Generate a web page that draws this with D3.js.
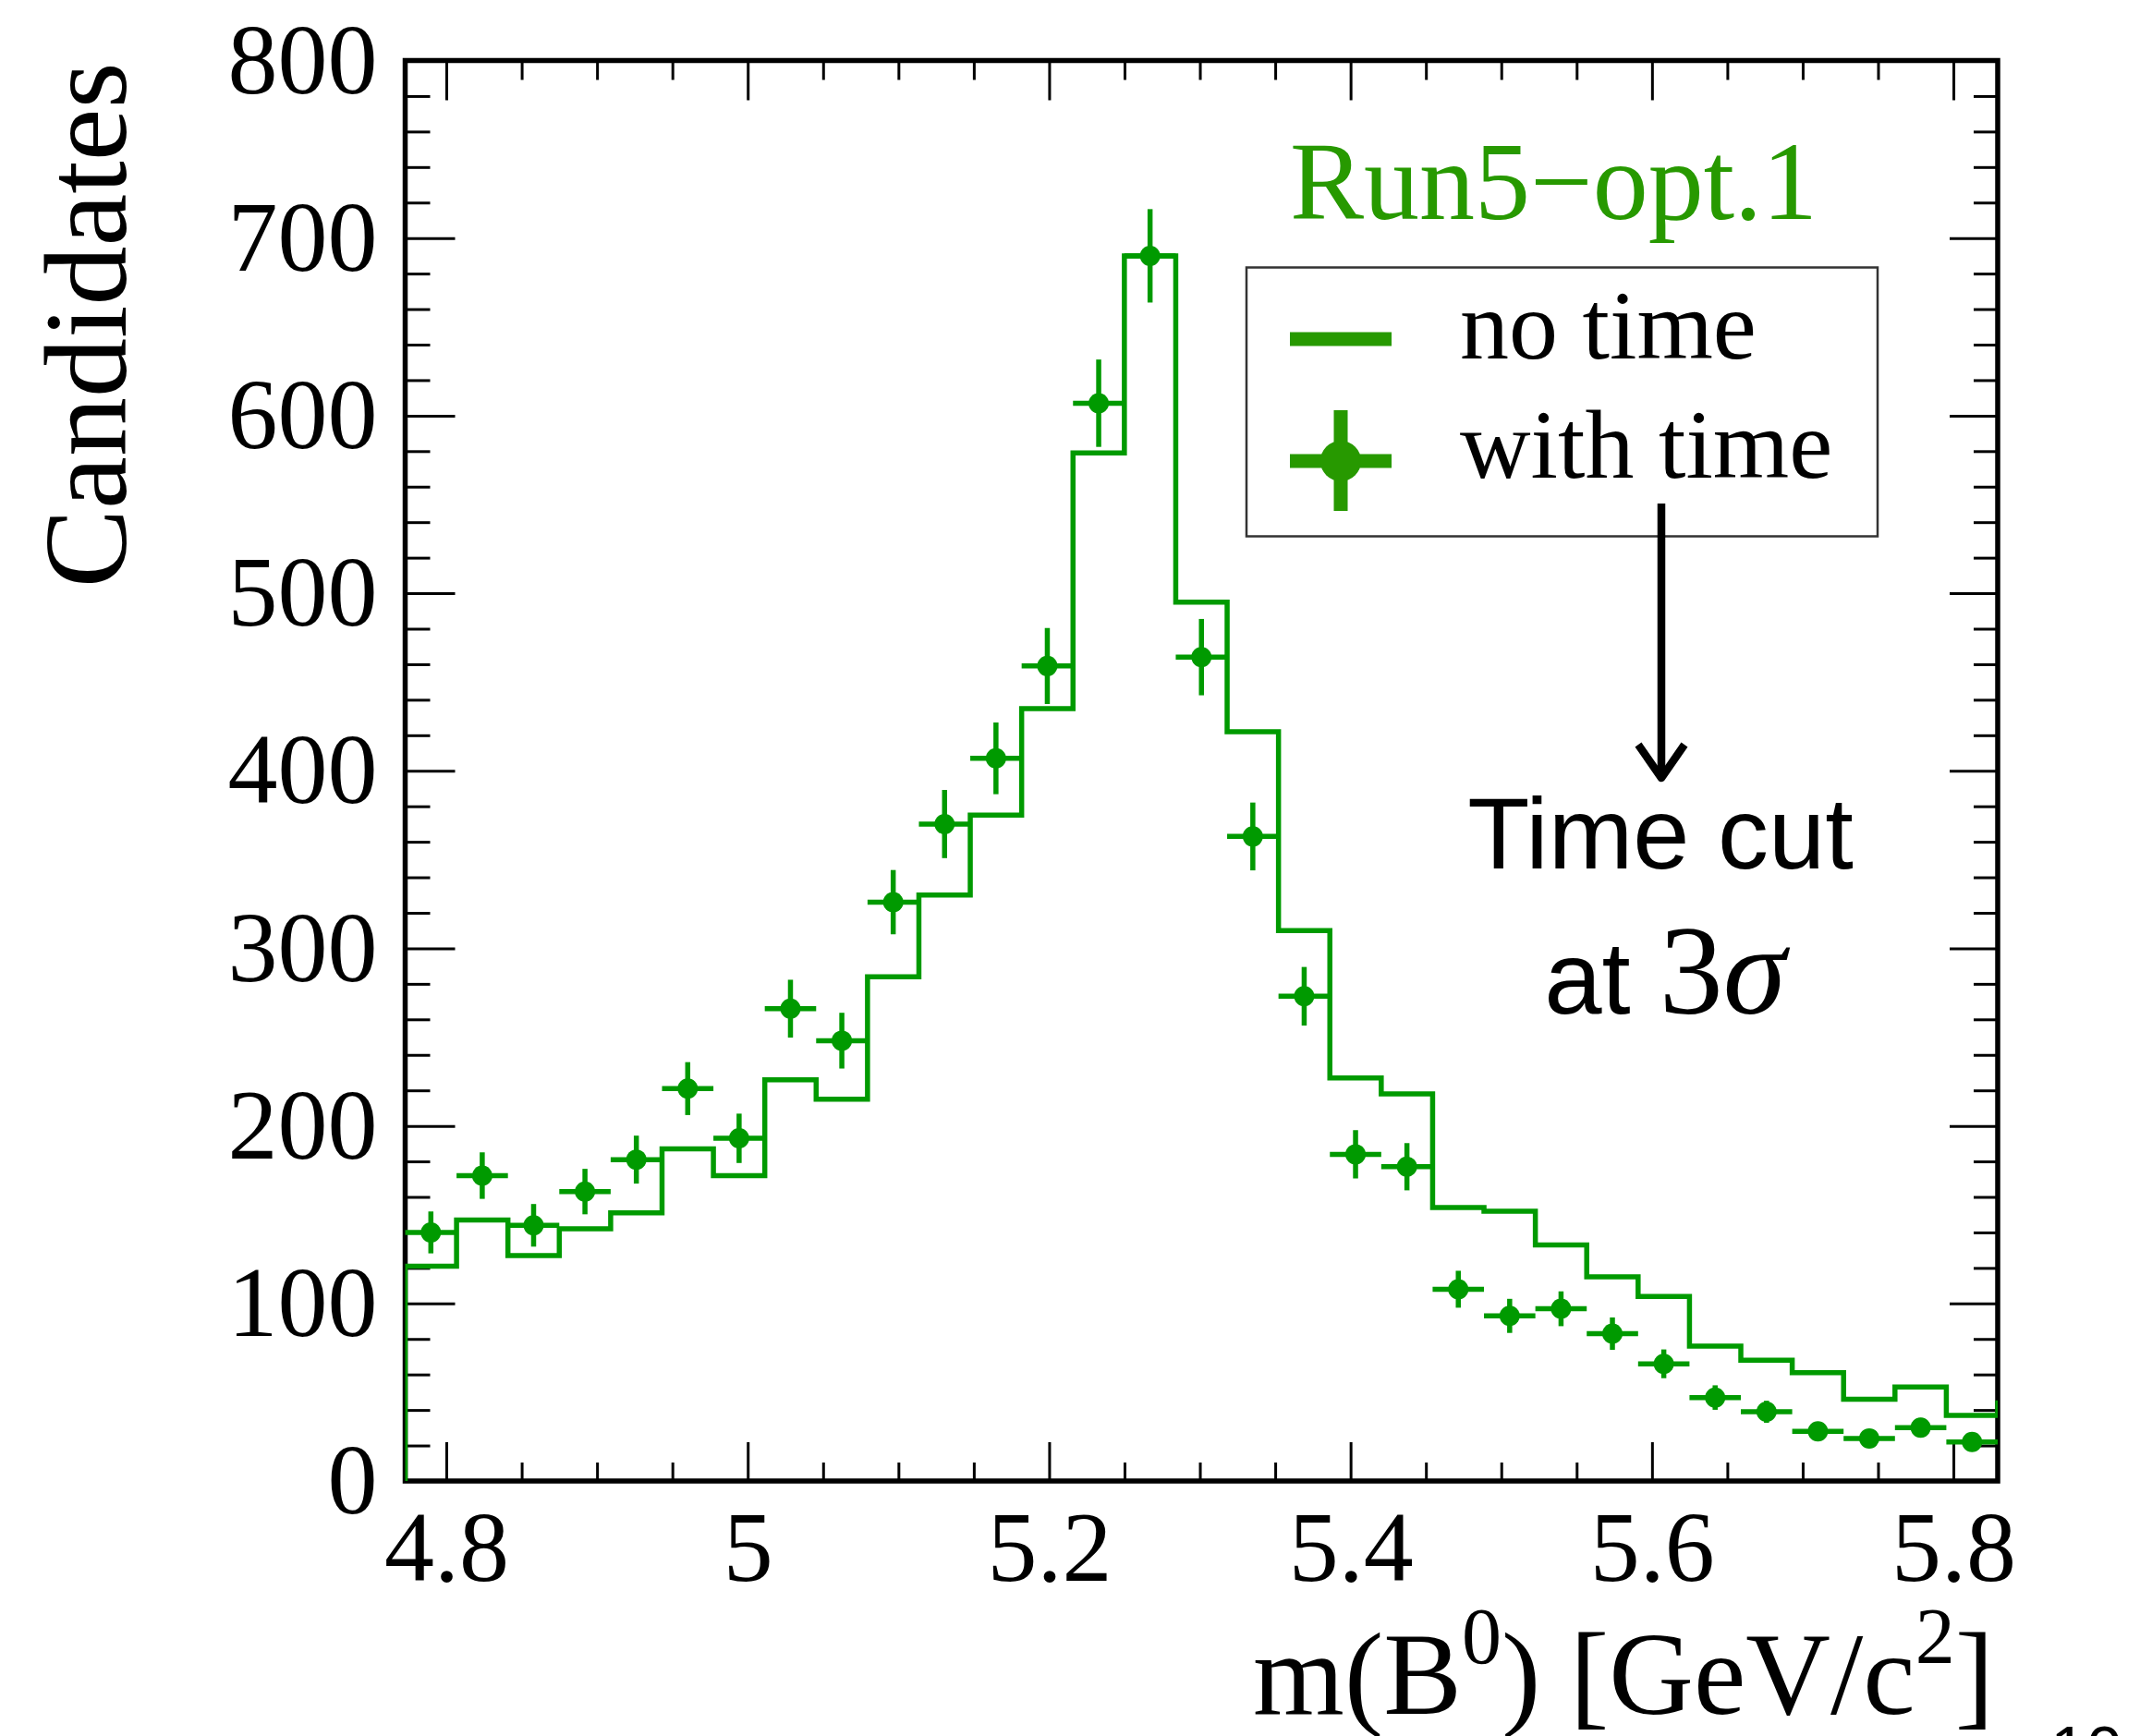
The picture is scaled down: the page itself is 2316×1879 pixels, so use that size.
<!DOCTYPE html>
<html>
<head>
<meta charset="utf-8">
<script src="https://cdn.jsdelivr.net/npm/d3@7"></script>
<style>
  html, body { margin: 0; padding: 0; background: #ffffff; }
  svg { display: block; }
</style>
</head>
<body>
<svg id="chart" width="2316" height="1879"></svg>
<script>
// m(B0) spectrum: 31 equal-width bins between massMin and massMax [GeV/c^2]
const massMin = 4.7727;
const massMax = 5.8294;
const nBins = 31;

// "no time" histogram contents (candidates per bin)
const noTime = [121, 147, 127, 142, 151, 187, 172, 226, 215, 284, 330, 375, 435, 579, 690,
                495, 422, 310, 227, 218, 154, 152, 133, 115, 104, 76, 68, 61, 46, 53, 37];
// content of the first bin beyond the displayed range
const noTimeNextBin = 44;

// "with time" points and their statistical uncertainties
const withTime = [140, 172, 144, 163, 181, 221, 193, 266, 248, 326, 370, 407, 459, 607, 690,
                  464, 363, 273, 184, 177, 108, 93, 97, 83, 66, 47, 39, 28, 24, 30, 22];
const withTimeErr = [11.8, 13.1, 12.0, 12.8, 13.5, 14.9, 13.9, 16.3, 15.7, 18.1, 19.2, 20.2, 21.4, 24.6, 26.3,
                     21.5, 19.1, 16.5, 13.6, 13.3, 10.4, 9.6, 9.8, 9.1, 8.1, 6.9, 6.2, 5.3, 4.9, 5.5, 4.7];

// axis ticks
const xTickMajor = [4.8, 5.0, 5.2, 5.4, 5.6, 5.8];
const xTickLabels = ["4.8", "5", "5.2", "5.4", "5.6", "5.8"];
const xTickMinor = [4.85, 4.9, 4.95, 5.05, 5.1, 5.15, 5.25, 5.3, 5.35, 5.45, 5.5, 5.55, 5.65, 5.7, 5.75];
const yTickMajor = [0, 100, 200, 300, 400, 500, 600, 700, 800];
const yTickMinor = [20, 40, 60, 80, 120, 140, 160, 180, 220, 240, 260, 280, 320, 340, 360, 380,
                    420, 440, 460, 480, 520, 540, 560, 580, 620, 640, 660, 680, 720, 740, 760, 780];

const legendEntries = ["no time", "with time"];

// ---------------------------------------------------------------------------
const frame = { left: 438.5, right: 2162, top: 65.5, bottom: 1603 };
const dataGreen = "#009a00";
const labelGreen = "#279900";
const serif = "'Liberation Serif', 'Times New Roman', serif";
const sans = "'Liberation Sans', Arial, Helvetica, sans-serif";

const svg = d3.select("#chart");
svg.append("rect").attr("width", 2316).attr("height", 1879).attr("fill", "#ffffff");

const x = d3.scaleLinear().domain([massMin, massMax]).range([frame.left, frame.right]);
const y = d3.scaleLinear().domain([0, 800]).range([frame.bottom, frame.top]);

const binWidth = (massMax - massMin) / nBins;
const binLow = i => massMin + i * binWidth;
const binCenter = i => massMin + (i + 0.5) * binWidth;

// ---- axes (ticks on all four sides, pointing inward) ----
function styleAxis(g) {
  g.select(".domain").remove();
  g.selectAll(".tick line").attr("stroke", "#000").attr("stroke-width", 3);
  g.selectAll("text")
    .attr("font-family", serif)
    .attr("font-size", 108)
    .attr("fill", "#000");
}

svg.append("g").attr("transform", `translate(${frame.left},0)`)
  .call(d3.axisLeft(y).tickValues(yTickMajor).tickFormat(d3.format("d")).tickSize(-54).tickPadding(30))
  .call(styleAxis);
svg.append("g").attr("transform", `translate(${frame.left},0)`)
  .call(d3.axisLeft(y).tickValues(yTickMinor).tickFormat("").tickSize(-27))
  .call(styleAxis);
svg.append("g").attr("transform", `translate(${frame.right},0)`)
  .call(d3.axisRight(y).tickValues(yTickMajor).tickFormat("").tickSize(-52))
  .call(styleAxis);
svg.append("g").attr("transform", `translate(${frame.right},0)`)
  .call(d3.axisRight(y).tickValues(yTickMinor).tickFormat("").tickSize(-26))
  .call(styleAxis);

svg.append("g").attr("transform", `translate(0,${frame.bottom})`)
  .call(d3.axisBottom(x).tickValues(xTickMajor).tickFormat((d, i) => xTickLabels[i]).tickSize(-42).tickPadding(31))
  .call(styleAxis);
svg.append("g").attr("transform", `translate(0,${frame.bottom})`)
  .call(d3.axisBottom(x).tickValues(xTickMinor).tickFormat("").tickSize(-20))
  .call(styleAxis);
svg.append("g").attr("transform", `translate(0,${frame.top})`)
  .call(d3.axisTop(x).tickValues(xTickMajor).tickFormat("").tickSize(-43))
  .call(styleAxis);
svg.append("g").attr("transform", `translate(0,${frame.top})`)
  .call(d3.axisTop(x).tickValues(xTickMinor).tickFormat("").tickSize(-21))
  .call(styleAxis);

// frame
svg.append("rect")
  .attr("x", frame.left).attr("y", frame.top)
  .attr("width", frame.right - frame.left).attr("height", frame.bottom - frame.top)
  .attr("fill", "none").attr("stroke", "#000").attr("stroke-width", 5.5);

// axis titles
svg.append("text")
  .attr("transform", `translate(136,${frame.top + 2}) rotate(-90)`)
  .attr("text-anchor", "end")
  .attr("font-family", serif).attr("font-size", 128).attr("fill", "#000")
  .text("Candidates");

const xTitle = svg.append("text")
  .attr("x", 2158).attr("y", 1855)
  .attr("text-anchor", "end")
  .attr("font-family", serif).attr("font-size", 127).attr("fill", "#000");
xTitle.append("tspan").text("m(B");
xTitle.append("tspan").attr("dy", -55).attr("font-size", 86).text("0");
xTitle.append("tspan").attr("dy", 55).text(") [GeV/c");
xTitle.append("tspan").attr("dy", -55).attr("font-size", 86).text("2");
xTitle.append("tspan").attr("dy", 55).text("]");

// ---- data ----
svg.append("clipPath").attr("id", "plotArea")
  .append("rect")
  .attr("x", frame.left).attr("y", frame.top)
  .attr("width", frame.right - frame.left).attr("height", frame.bottom - frame.top);

// step outline of the "no time" histogram
const stepPoints = [[binLow(0), 0]];
noTime.forEach((v, i) => stepPoints.push([binLow(i), v]));
stepPoints.push([binLow(nBins), noTimeNextBin]);
stepPoints.push([binLow(nBins + 1), noTimeNextBin]);

const step = d3.line()
  .x(d => x(d[0]))
  .y(d => y(d[1]))
  .curve(d3.curveStepAfter);

svg.append("path")
  .attr("clip-path", "url(#plotArea)")
  .attr("d", step(stepPoints))
  .attr("fill", "none")
  .attr("stroke", dataGreen)
  .attr("stroke-width", 5.5)
  .attr("stroke-linejoin", "miter");

// "with time" points with error bars
const pts = svg.append("g").attr("class", "with-time");
withTime.forEach((v, i) => {
  const cx = x(binCenter(i));
  const cy = y(v);
  pts.append("line")
    .attr("x1", x(binLow(i))).attr("x2", x(binLow(i + 1)))
    .attr("y1", cy).attr("y2", cy)
    .attr("stroke", dataGreen).attr("stroke-width", 5.5);
  pts.append("line")
    .attr("x1", cx).attr("x2", cx)
    .attr("y1", y(v + withTimeErr[i])).attr("y2", y(v - withTimeErr[i]))
    .attr("stroke", dataGreen).attr("stroke-width", 5.5);
  pts.append("circle")
    .attr("cx", cx).attr("cy", cy).attr("r", 11)
    .attr("fill", dataGreen);
});

// ---- label and legend ----
svg.append("text")
  .attr("x", 1396).attr("y", 237)
  .attr("font-family", serif).attr("font-size", 120).attr("fill", labelGreen)
  .text("Run5\u2212opt.1");

svg.append("rect")
  .attr("x", 1349).attr("y", 289.5).attr("width", 683).attr("height", 291)
  .attr("fill", "#ffffff").attr("stroke", "#333").attr("stroke-width", 2.5);

// line sample
svg.append("line")
  .attr("x1", 1396).attr("x2", 1506).attr("y1", 367).attr("y2", 367)
  .attr("stroke", labelGreen).attr("stroke-width", 15);
// marker sample
svg.append("line")
  .attr("x1", 1396).attr("x2", 1506).attr("y1", 499).attr("y2", 499)
  .attr("stroke", labelGreen).attr("stroke-width", 15);
svg.append("line")
  .attr("x1", 1451).attr("x2", 1451).attr("y1", 444).attr("y2", 553)
  .attr("stroke", labelGreen).attr("stroke-width", 15);
svg.append("circle")
  .attr("cx", 1451).attr("cy", 499).attr("r", 22)
  .attr("fill", labelGreen);

svg.selectAll("text.legend")
  .data(legendEntries)
  .enter().append("text")
  .attr("class", "legend")
  .attr("x", 1580)
  .attr("y", (d, i) => 388 + i * 129)
  .attr("font-family", serif).attr("font-size", 106).attr("fill", "#000")
  .text(d => d);

// ---- annotation ----
svg.append("line")
  .attr("x1", 1798).attr("x2", 1798).attr("y1", 545).attr("y2", 838)
  .attr("stroke", "#000").attr("stroke-width", 8.5);
svg.append("path")
  .attr("d", "M1773,806 L1798,842 L1823,806")
  .attr("fill", "none").attr("stroke", "#000").attr("stroke-width", 8.5)
  .attr("stroke-linejoin", "round");

svg.append("text")
  .attr("x", 1797).attr("y", 940)
  .attr("text-anchor", "middle")
  .attr("font-family", sans).attr("font-size", 110).attr("fill", "#000")
  .text("Time cut");

const cutLine = svg.append("text")
  .attr("x", 1802).attr("y", 1097)
  .attr("text-anchor", "middle")
  .attr("font-family", sans).attr("font-size", 112).attr("fill", "#000");
cutLine.append("tspan").text("at ");
cutLine.append("tspan").attr("font-family", serif).attr("font-size", 138).text("3");
cutLine.append("tspan").attr("font-family", serif).attr("font-size", 138).attr("font-style", "italic").text("\u03C3");

// page number at the bottom edge
svg.append("text")
  .attr("x", 2219).attr("y", 1918)
  .attr("font-family", sans).attr("font-size", 70).attr("fill", "#000")
  .text("10");
</script>
</body>
</html>
